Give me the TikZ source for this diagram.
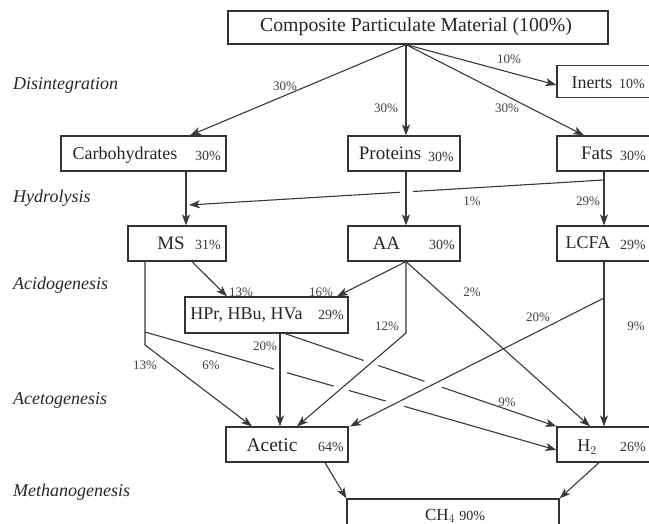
\documentclass[tikz,border=0pt]{standalone}
\usepackage{fontspec}
\setmainfont{Liberation Serif}
\usetikzlibrary{arrows.meta}
\begin{document}
\begin{tikzpicture}[x=1pt,y=-1pt,
  box/.style={draw=black!80, line width=1.2pt, inner sep=0pt},
  conn/.style={draw=black!78, line width=1.1pt, -{Stealth[length=11pt,width=8pt,inset=3pt]}},
  gapped/.style={preaction={draw=white, line width=13pt, -, shorten <=8pt, shorten >=12pt}},
  lbl/.style={font=\fontsize{18}{20}\selectfont, inner sep=0pt, text=black!85},
  pct/.style={font=\fontsize{14}{16}\selectfont, inner sep=0pt, text=black!80},
  elbl/.style={font=\fontsize{13}{15}\selectfont, inner sep=0pt, text=black!75},
  phase/.style={font=\fontsize{18}{20}\selectfont\itshape, inner sep=0pt, anchor=west, text=black!85}]
\useasboundingbox (0,0) rectangle (649,524);
% boxes
\node[box, minimum width=380pt, minimum height=33pt] (comp) at (418,27.5) {};
\node[box, minimum width=123pt, minimum height=32pt] (inerts) at (618.5,81.5) {};
\node[box, minimum width=165pt, minimum height=35pt] (carb) at (143.5,153.5) {};
\node[box, minimum width=112pt, minimum height=35pt] (prot) at (404,153.5) {};
\node[box, minimum width=123pt, minimum height=35pt] (fats) at (618.5,153.5) {};
\node[box, minimum width=98pt, minimum height=35pt] (ms) at (177,243.5) {};
\node[box, minimum width=112pt, minimum height=35pt] (aa) at (404,243.5) {};
\node[box, minimum width=123pt, minimum height=35pt] (lcfa) at (618.5,243.5) {};
\node[box, minimum width=163pt, minimum height=36pt] (hpr) at (266.5,315) {};
\node[box, minimum width=122pt, minimum height=35pt] (acetic) at (287,444.5) {};
\node[box, minimum width=123pt, minimum height=35pt] (h2) at (618.5,444.5) {};
\node[box, minimum width=212pt, minimum height=41pt] (ch4) at (453,519.5) {};
% box texts
\node[lbl, font=\fontsize{19.8}{21}\selectfont] (tcomp) at (416,27) {Composite Particulate Material (100\%)};
\node[lbl] (tinerts) at (592,83) {Inerts};
\node[pct] (pinerts) at (632,84) {10\%};
\node[lbl] (tcarb) at (125,155) {Carbohydrates};
\node[pct] (pcarb) at (208,156) {30\%};
\node[lbl, font=\fontsize{19}{21}\selectfont] (tprot) at (390,153) {Proteins};
\node[pct] (pprot) at (441,157) {30\%};
\node[lbl, font=\fontsize{19}{21}\selectfont] (tfats) at (597,153) {Fats};
\node[pct] (pfats) at (633,156) {30\%};
\node[lbl, font=\fontsize{19}{21}\selectfont] (tms) at (171,243) {MS};
\node[pct] (pms) at (208,245) {31\%};
\node[lbl, font=\fontsize{19}{21}\selectfont] (taa) at (386.5,243) {AA};
\node[pct] (paa) at (442,245) {30\%};
\node[lbl] (tlcfa) at (588,243) {LCFA};
\node[pct] (plcfa) at (633,245) {29\%};
\node[lbl] (thpr) at (246.5,315) {HPr, HBu, HVa};
\node[pct] (phpr) at (331,315) {29\%};
\node[lbl, font=\fontsize{19.5}{21}\selectfont] (tacetic) at (272,445) {Acetic};
\node[pct] (pacetic) at (331,447) {64\%};
\node[lbl] (th2) at (587,447) {H$_2$};
\node[pct] (ph2) at (633,447) {26\%};
\node[lbl, font=\fontsize{17}{19}\selectfont] (tch4) at (455,516) {CH$_4$ {\fontsize{14}{16}\selectfont 90\%}};
% phase labels
\node[phase] (p1) at (13,85) {Disintegration};
\node[phase] (p2) at (13,198) {Hydrolysis};
\node[phase] (p3) at (13,285) {Acidogenesis};
\node[phase] (p4) at (13,400) {Acetogenesis};
\node[phase] (p5) at (13,492) {Methanogenesis};
% disintegration
\draw[conn] (comp.south -| 406,0) -- (carb.north -| 190,0);
\draw[conn] (comp.south -| 406,0) -- (prot.north -| 406,0);
\draw[conn] (comp.south -| 406,0) -- (inerts.west |- 0,85);
\draw[conn] (comp.south -| 406,0) -- (fats.north -| 584,0);
% hydrolysis
\coordinate (fk) at (604,180);
\coordinate (msin) at (189,205);
\draw[conn] (fats.south -| 604,0) -- (fk) -- (msin);
\draw[conn] (carb.south -| 186,0) -- (ms.north -| 186,0);
\draw[conn, gapped] (prot.south -| 406,0) -- (aa.north -| 406,0);
\draw[conn] (fats.south -| 604,0) -- (lcfa.north -| 604,0);
% lines that get cut
\coordinate (msk) at (145,332);
\draw[conn] (msk) -- (h2.west |- 0,450);
\draw[conn] (hpr.south -| 285,0) -- (h2.north west);
% cutting lines
\coordinate (aak) at (406,333);
\coordinate (lk) at (604,298);
\draw[conn, gapped] (hpr.south -| 280,0) -- (acetic.north -| 280,0);
\draw[conn, gapped] (aa.south -| 406,0) -- (aak) -- (acetic.north -| 297,0);
\draw[conn, gapped] (lk) -- (acetic.north -| 350,0);
% others
\draw[conn] (ms.south -| 192,0) -- (hpr.north -| 227,0);
\draw[conn] (aa.south -| 406,0) -- (hpr.north -| 337,0);
\draw[conn] (aa.south -| 406,0) -- (h2.north -| 590,0);
\draw[conn] (lcfa.south -| 604,0) -- (h2.north -| 604,0);
\draw[conn] (ms.south -| 145,0) -- (145,345) -- (acetic.north -| 252,0);
\draw[conn] (acetic.south -| 325,0) -- (ch4.north west);
\draw[conn] (h2.south -| 599,0) -- (ch4.north east);
% edge labels
\node[elbl] (e1) at (285,86) {30\%};
\node[elbl] (e2) at (386,108) {30\%};
\node[elbl] (e3) at (509,59) {10\%};
\node[elbl] (e4) at (507,108) {30\%};
\node[elbl] (e5) at (472,201) {1\%};
\node[elbl] (e6) at (588,201) {29\%};
\node[elbl] (e7) at (241,292) {13\%};
\node[elbl] (e8) at (321,292) {16\%};
\node[elbl] (e9) at (472,292) {2\%};
\node[elbl] (e10) at (387,326) {12\%};
\node[elbl] (e11) at (538,317) {20\%};
\node[elbl] (e12) at (636,326) {9\%};
\node[elbl] (e13) at (145,365) {13\%};
\node[elbl] (e14) at (211,365) {6\%};
\node[elbl] (e15) at (265,346) {20\%};
\node[elbl] (e16) at (507,402) {9\%};
\end{tikzpicture}
\end{document}
